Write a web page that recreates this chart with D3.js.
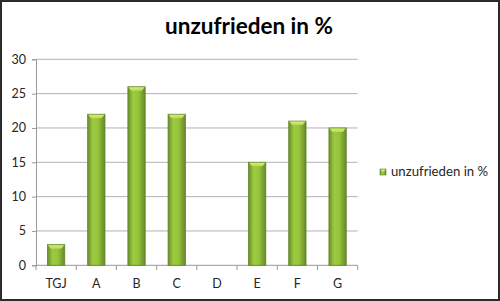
<!DOCTYPE html>
<html>
<head>
<meta charset="utf-8">
<script src="https://cdn.jsdelivr.net/npm/d3@7"></script>
<style>
  body { margin: 0; background: #fff; }
  svg { display: block; font-family: Lato, "Open Sans", sans-serif; }
</style>
</head>
<body>
<script>
// chart data
var categories = ["TGJ", "A", "B", "C", "D", "E", "F", "G"];
var values = [3, 22, 26, 22, 0, 15, 21, 20];
var yTicks = [0, 5, 10, 15, 20, 25, 30];
var seriesName = "unzufrieden in %";
var chartTitle = "unzufrieden in %";

var W = 500, H = 301;
var svg = d3.select("body").append("svg").attr("width", W).attr("height", H);

// bar rows: category + value
var rows = categories.map(function(c, i) { return { cat: c, val: values[i] }; });

// gradient for the bars (cylinder look)
var defs = svg.append("defs");
var grad = defs.append("linearGradient").attr("id", "barGrad")
  .attr("x1", "0%").attr("x2", "100%").attr("y1", "0%").attr("y2", "0%");
grad.append("stop").attr("offset", "0%").attr("stop-color", "#6b8d2a");
grad.append("stop").attr("offset", "30%").attr("stop-color", "#9ccb40");
grad.append("stop").attr("offset", "60%").attr("stop-color", "#96c43b");
grad.append("stop").attr("offset", "100%").attr("stop-color", "#67882a");
var capGrad = defs.append("linearGradient").attr("id", "capGrad")
  .attr("x1", "0%").attr("x2", "0%").attr("y1", "0%").attr("y2", "100%");
capGrad.append("stop").attr("offset", "0%").attr("stop-color", "#d6ec78");
capGrad.append("stop").attr("offset", "100%").attr("stop-color", "#b6da55");

// outer frame
svg.append("rect").attr("x", 1).attr("y", 1).attr("width", W - 2).attr("height", H - 2)
  .attr("fill", "#fff").attr("stroke", "#2b2b2b").attr("stroke-width", 2);

// title
svg.append("text").attr("x", 249).attr("y", 34)
  .attr("text-anchor", "middle").attr("font-size", 22.5).attr("font-weight", "bold")
  .attr("fill", "#000").text(chartTitle);

var x = d3.scaleBand().domain(categories).range([36, 357.7]).paddingInner(0.57).paddingOuter(0.285);
var xTickScale = d3.scaleLinear().domain([0, categories.length]).range([36, 357.7]);
var y = d3.scaleLinear().domain([0, 30]).range([265.3, 59.3]);

// gridlines
svg.append("g").selectAll("line").data(yTicks.filter(function(d) { return d > 0; })).enter()
  .append("line")
  .attr("x1", 36).attr("x2", 357.7)
  .attr("y1", function(d) { return y(d); }).attr("y2", function(d) { return y(d); })
  .attr("stroke", "#b3b3b3").attr("stroke-width", 1);

// y axis
var yAxis = svg.append("g").attr("transform", "translate(36,0)")
  .call(d3.axisLeft(y).tickValues(yTicks).tickSize(4).tickPadding(6));
yAxis.select(".domain").attr("stroke", "#999");
yAxis.selectAll(".tick line").attr("stroke", "#999");
yAxis.selectAll("text").attr("font-size", 12.5).attr("fill", "#262626").attr("font-family", "Lato, sans-serif");

// x axis line and ticks between categories
svg.append("line").attr("x1", 36).attr("x2", 357.7).attr("y1", 265.3).attr("y2", 265.3)
  .attr("stroke", "#999");
svg.append("g").selectAll("line").data(d3.range(categories.length + 1)).enter()
  .append("line")
  .attr("x1", function(i) { return xTickScale(i); }).attr("x2", function(i) { return xTickScale(i); })
  .attr("y1", 265.3).attr("y2", 270)
  .attr("stroke", "#999");
svg.append("g").selectAll("text").data(categories).enter()
  .append("text")
  .attr("x", function(d) { return x(d) + x.bandwidth() / 2; })
  .attr("y", 288)
  .attr("text-anchor", "middle")
  .attr("font-size", 12.5).attr("fill", "#262626")
  .text(function(d) { return d; });

// bars
var bars = svg.append("g").selectAll("g").data(rows.filter(function(d) { return d.val > 0; })).enter()
  .append("g");
bars.append("rect")
  .attr("x", function(d) { return x(d.cat); })
  .attr("y", function(d) { return y(d.val); })
  .attr("width", x.bandwidth())
  .attr("height", function(d) { return y(0) - y(d.val); })
  .attr("fill", "url(#barGrad)")
  .attr("stroke", "#5f8426").attr("stroke-width", 0.8);
// bevelled top of each bar
bars.append("path")
  .attr("d", function(d) {
    var x0 = x(d.cat), w = x.bandwidth(), t = y(d.val);
    return "M" + (x0 + 0.5) + "," + (t + 0.5) + "L" + (x0 + w - 0.5) + "," + (t + 0.5) +
      "L" + (x0 + w * 0.8) + "," + (t + 4) + "L" + (x0 + w * 0.2) + "," + (t + 4) + "Z";
  })
  .attr("fill", "url(#capGrad)");

// legend
var legend = svg.append("g").attr("transform", "translate(380,169)");
legend.append("rect").attr("width", 6).attr("height", 6)
  .attr("fill", "url(#barGrad)").attr("stroke", "#5f8426").attr("stroke-width", 0.6);
legend.append("path").attr("d", "M0.5,0.5L5.5,0.5L4,2.5L2,2.5Z").attr("fill", "#d6ec78");
legend.append("text").attr("x", 11).attr("y", 6.5)
  .attr("font-size", 13.2).attr("fill", "#262626").text(seriesName);
</script>
</body>
</html>
